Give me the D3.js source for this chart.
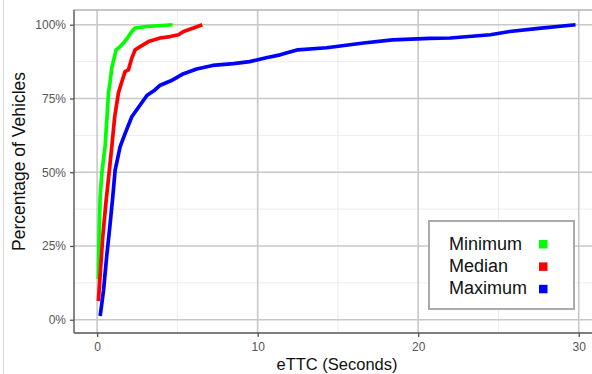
<!DOCTYPE html>
<html><head><meta charset="utf-8">
<script src="https://cdn.jsdelivr.net/npm/d3@7/dist/d3.min.js"></script>
<style>
html,body{margin:0;padding:0;background:#fff;}
svg{display:block;font-family:"Liberation Sans",Arial,sans-serif;}
</style></head>
<body>
<svg id="chart" width="592" height="374"></svg>
<script>
// ---- data ----
const seriesNames = ["Minimum", "Median", "Maximum"];
const seriesColors = ["#00ff00", "#ff0000", "#0000ff"];

const minX = [0.08, 0.12, 0.19, 0.3, 0.5, 0.62, 0.71, 0.81, 0.91, 1.06, 1.18, 1.43, 1.64, 1.95, 2.16, 2.37, 3.1, 4.7];
const minY = [0.138, 0.28, 0.42, 0.5, 0.59, 0.69, 0.77, 0.807, 0.853, 0.887, 0.915, 0.926, 0.938, 0.96, 0.977, 0.989, 0.994, 1.0];

const medX = [0.08, 0.2, 0.35, 0.56, 0.75, 0.92, 1.1, 1.33, 1.54, 1.74, 1.95, 2.16, 2.37, 2.68, 3.2, 3.93, 4.55, 5.07, 5.38, 6.0, 6.55];
const medY = [0.063, 0.16, 0.28, 0.404, 0.5, 0.59, 0.69, 0.77, 0.807, 0.841, 0.847, 0.887, 0.915, 0.926, 0.943, 0.955, 0.96, 0.966, 0.977, 0.989, 1.0];

const maxX = [0.19, 0.4, 0.6, 0.8, 0.98, 1.12, 1.43, 1.74, 2.16, 2.68, 3.1, 3.6, 3.93, 4.6, 5.3, 6.2, 7.2, 8.5, 9.5, 10.6, 11.4, 12.5, 14.3, 16.6, 18.4, 20.7, 22.0, 24.5, 25.7, 27.5, 29.8];
const maxY = [0.013, 0.1, 0.217, 0.32, 0.42, 0.506, 0.586, 0.631, 0.688, 0.728, 0.76, 0.779, 0.795, 0.81, 0.832, 0.85, 0.862, 0.868, 0.875, 0.889, 0.898, 0.915, 0.922, 0.938, 0.949, 0.954, 0.955, 0.966, 0.977, 0.988, 1.0];

const xTicks = [0, 10, 20, 30];
const xMinor = [5, 15, 25];
const yTicks = [0, 0.25, 0.5, 0.75, 1];
const yMinor = [0.125, 0.375, 0.625, 0.875];
const yTickLabels = ["0%", "25%", "50%", "75%", "100%"];
const xTitle = "eTTC (Seconds)";
const yTitle = "Percentage of Vehicles";

// ---- layout ----
const svg = d3.select("#chart");
const L = 74, R = 598, T = 10, B = 333;
const x = d3.scaleLinear().domain([-1.44, 31.2]).range([L, R]);
const y = d3.scaleLinear().domain([-0.045, 1.05]).range([B, T]);

// screenshot border line on the left
svg.append("line").attr("x1", 3.5).attr("x2", 3.5).attr("y1", 0).attr("y2", 374)
  .attr("stroke", "#dcdcdc").attr("stroke-width", 1);

const panel = svg.append("g");
// minor grid
panel.selectAll(".xm").data(xMinor).join("line")
  .attr("x1", d => x(d)).attr("x2", d => x(d)).attr("y1", T).attr("y2", B)
  .attr("stroke", "#ededed").attr("stroke-width", 1);
panel.selectAll(".ym").data(yMinor).join("line")
  .attr("x1", L).attr("x2", R).attr("y1", d => y(d)).attr("y2", d => y(d))
  .attr("stroke", "#ededed").attr("stroke-width", 1);
// major grid
panel.selectAll(".xg").data(xTicks).join("line")
  .attr("x1", d => x(d)).attr("x2", d => x(d)).attr("y1", T).attr("y2", B)
  .attr("stroke", "#c8c8c8").attr("stroke-width", 1.6);
panel.selectAll(".yg").data(yTicks).join("line")
  .attr("x1", L).attr("x2", R).attr("y1", d => y(d)).attr("y2", d => y(d))
  .attr("stroke", "#c8c8c8").attr("stroke-width", 1.6);
// panel border (top)
panel.append("line").attr("x1", L).attr("x2", R).attr("y1", T).attr("y2", T)
  .attr("stroke", "#b4b4b4").attr("stroke-width", 1.5);

// lines
const series = [
  minX.map((v, i) => [v, minY[i]]),
  medX.map((v, i) => [v, medY[i]]),
  maxX.map((v, i) => [v, maxY[i]])
];
const line = d3.line().x(d => x(d[0])).y(d => y(d[1]));
svg.selectAll(".series").data(series).join("path")
  .attr("d", line).attr("fill", "none")
  .attr("stroke", (d, i) => seriesColors[i]).attr("stroke-width", 3.7)
  .attr("stroke-linejoin", "round");

// axes
const xAxis = d3.axisBottom(x).tickValues(xTicks).tickSize(4).tickPadding(5).tickFormat(d3.format("d"));
const gx = svg.append("g").attr("transform", `translate(0,${B})`).call(xAxis);
gx.select(".domain").attr("d", `M${L},0H${R}`).attr("stroke", "#555").attr("stroke-width", 1.4);
gx.selectAll(".tick line").attr("stroke", "#555").attr("stroke-width", 1.3);
gx.selectAll(".tick text").attr("fill", "#555").attr("font-size", 12).attr("font-family", "Liberation Sans, Arial, sans-serif");

const yAxis = d3.axisLeft(y).tickValues(yTicks).tickSize(4).tickPadding(4).tickFormat((d, i) => yTickLabels[i]);
const gy = svg.append("g").attr("transform", `translate(${L},0)`).call(yAxis);
gy.select(".domain").attr("d", `M0,${T}V${B}`).attr("stroke", "#555").attr("stroke-width", 1.4);
gy.selectAll(".tick line").attr("stroke", "#555").attr("stroke-width", 1.3);
gy.selectAll(".tick text").attr("fill", "#555").attr("font-size", 12).attr("font-family", "Liberation Sans, Arial, sans-serif");

// titles
svg.append("text").attr("x", (L + 580) / 2 + 10).attr("y", 370).attr("text-anchor", "middle")
  .attr("font-size", 16.5).attr("fill", "#111").text(xTitle);
svg.append("text").attr("transform", `translate(25,${(T + B) / 2 - 10}) rotate(-90)`)
  .attr("text-anchor", "middle").attr("font-size", 17.5).attr("fill", "#111").text(yTitle);

// legend
const lg = svg.append("g");
lg.append("rect").attr("x", 429).attr("y", 221).attr("width", 145).attr("height", 88)
  .attr("fill", "#fff").attr("stroke", "#aaa").attr("stroke-width", 2);
seriesNames.forEach((n, i) => {
  lg.append("text").attr("x", 449).attr("y", 249.5 + i * 22.4)
    .attr("font-size", 18).attr("fill", "#111").text(n);
  lg.append("rect").attr("x", 539).attr("y", 240 + i * 22.4).attr("width", 8.5).attr("height", 8.5)
    .attr("fill", seriesColors[i]);
});
</script>
</body></html>
